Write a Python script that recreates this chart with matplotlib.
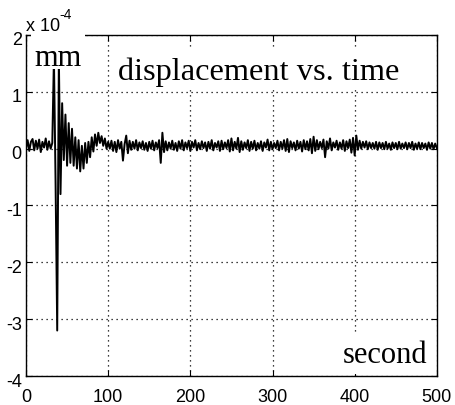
import matplotlib
matplotlib.use('Agg')
import matplotlib.pyplot as plt
import matplotlib.transforms as mtransforms
import numpy as np
from matplotlib.patches import Rectangle

# displacement record, one sample every 2 s, in units of 1e-4 mm
# quiet part before the event, t = 0 ... 30 s
disp_before = [
    0.00, 0.15, -0.04, 0.12, 0.17, -0.03, 0.14, 0.00,
    0.16, -0.06, 0.12, 0.02, 0.18, -0.02, 0.13, 0.00,
]
# the event and its decay, t = 32 ... 100 s
disp_event = [
    0.10, 1.60, -0.60, -3.20, 1.60, -0.80, 0.80, -0.20, 0.60, -0.30,
    0.45, -0.25, 0.35, -0.30, 0.20, -0.35, 0.15, -0.40, 0.05, -0.35,
    0.10, -0.25, 0.12, -0.15, 0.20, -0.05, 0.25, 0.05, 0.28, 0.10,
    0.22, 0.05, 0.18, 0.00, 0.12,
]
# noise after the event, t = 102 ... 500 s
disp_after = [
    0.00, 0.14, -0.04, 0.12, -0.06, 0.15, 0.00, 0.12, -0.21, 0.08,
    0.23, -0.08, 0.14, -0.02, 0.12, 0.00, 0.15, -0.03, 0.11, 0.01,
    0.13, -0.02, 0.10, -0.04, 0.12, 0.00, 0.14, -0.03, 0.11, 0.01,
    0.15, -0.25, 0.28, -0.06, 0.13, -0.03, 0.11, 0.00, 0.14, -0.02,
    0.10, -0.04, 0.13, 0.00, 0.15, -0.03, 0.11, 0.01, 0.14, -0.04,
    0.12, 0.02, 0.15, -0.03, 0.10, -0.01, 0.13, 0.01, 0.11, -0.04,
    0.12, 0.00, 0.15, -0.03, 0.10, 0.02, 0.13, -0.04, 0.14, -0.01,
    0.11, 0.01, 0.15, -0.05, 0.18, -0.03, 0.12, 0.00, 0.19, -0.06,
    0.13, -0.02, 0.11, 0.01, 0.15, -0.04, 0.12, 0.00, 0.14, -0.03,
    0.10, 0.00, 0.13, -0.04, 0.11, 0.02, 0.16, -0.03, 0.12, -0.01,
    0.10, 0.01, 0.14, -0.03, 0.12, 0.00, 0.15, -0.04, 0.17, -0.06,
    0.13, 0.01, 0.11, -0.03, 0.14, 0.00, 0.12, -0.05, 0.15, -0.01,
    0.13, -0.03, 0.17, -0.08, 0.21, -0.04, 0.15, -0.01, 0.12, 0.01,
    0.16, -0.15, 0.13, 0.00, 0.18, -0.03, 0.11, 0.02, 0.14, -0.02,
    0.11, 0.00, 0.15, -0.04, 0.13, 0.01, 0.16, -0.07, 0.19, -0.12,
    0.23, -0.02, 0.14, 0.00, 0.12, 0.02, 0.13, -0.01, 0.11, 0.01,
    0.10, 0.00, 0.12, -0.02, 0.11, 0.01, 0.10, -0.01, 0.12, 0.00,
    0.09, -0.02, 0.11, 0.01, 0.10, -0.01, 0.12, 0.00, 0.09, 0.01,
    0.11, -0.01, 0.10, 0.01, 0.12, -0.02, 0.09, 0.00, 0.11, -0.01,
    0.10, 0.01, 0.09, -0.02, 0.11, 0.00, 0.10, -0.01, 0.09, 0.01,
]
dt = 2.0
x_ticks = [0, 100, 200, 300, 400, 500]
y_ticks = [-4, -3, -2, -1, 0, 1, 2]


def main() -> None:
    plt.rcParams['axes.unicode_minus'] = False
    plt.rcParams['font.family'] = 'Liberation Sans'

    disp = np.array(disp_before + disp_event + disp_after)
    t = np.arange(len(disp)) * dt

    fig = plt.figure(figsize=(4.56, 4.05), dpi=100)
    ax = fig.add_axes([0.057, 0.0716, 0.901, 0.842])

    ax.plot(t, disp, color='k', linewidth=1.4)

    ax.set_xlim(0, 500)
    ax.set_ylim(-4, 2)
    ax.set_xticks(x_ticks)
    ax.set_yticks(y_ticks)
    ax.set_yticklabels([str(v) for v in y_ticks])
    ax.grid(True, color='k', linestyle=(0, (1, 3)), linewidth=0.9)
    ax.tick_params(direction='in', top=True, right=True, length=4,
                   width=0.8, labelsize=13)
    ax.tick_params(axis='x', pad=9)
    ax.tick_params(axis='y', pad=3)
    for sp in ax.spines.values():
        sp.set_linewidth(1.0)

    # matlab puts the y labels a bit low
    shift = mtransforms.ScaledTranslation(0, -4 / 100, fig.dpi_scale_trans)
    for lbl in ax.get_yticklabels():
        lbl.set_transform(lbl.get_transform() + shift)

    # white backgrounds behind the annotations
    for x0, y0, w, h in [(0.012, 0.900, 0.131, 0.106),
                         (0.209, 0.839, 0.740, 0.123),
                         (0.759, 0.006, 0.229, 0.120)]:
        ax.add_patch(Rectangle((x0, y0), w, h, transform=ax.transAxes,
                               facecolor='white', edgecolor='none',
                               zorder=2.6, clip_on=False))

    serif = 'Liberation Serif'
    ax.text(10, 1.46, 'mm', family=serif, fontsize=22, va='baseline',
            zorder=3)
    ax.text(112, 1.2, 'displacement vs. time', family=serif, fontsize=23.3,
            va='baseline', zorder=3)
    ax.text(489, -3.77, 'second', family=serif, fontsize=22, ha='right',
            va='baseline', zorder=3)

    fig.text(26 / 456, 1 - 31 / 405, 'x 10', fontsize=13, va='baseline')
    fig.text(59 / 456, 1 - 19 / 405, '-4', fontsize=10, va='baseline')

    fig.savefig('out.png', dpi=100)
    plt.close(fig)


if __name__ == '__main__':
    main()
